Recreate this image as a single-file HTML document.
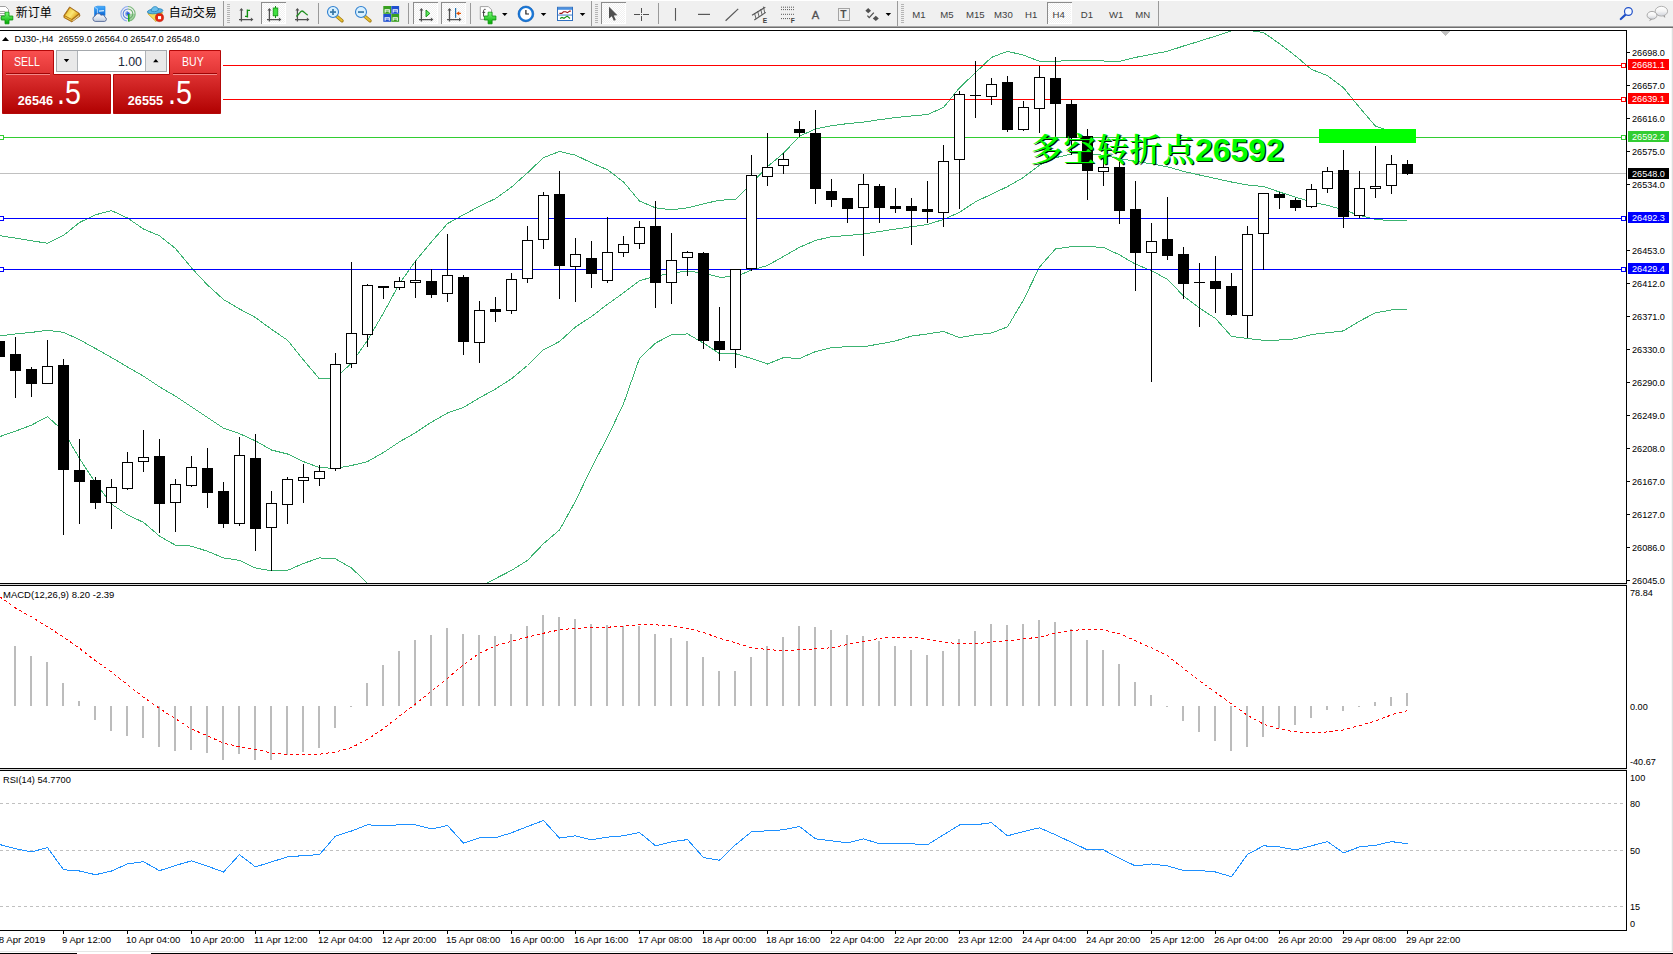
<!DOCTYPE html>
<html lang="zh"><head><meta charset="utf-8"><title>DJ30-,H4</title>
<style>
html,body{margin:0;padding:0;background:#fff;}
body{width:1673px;height:954px;position:relative;overflow:hidden;font-family:"Liberation Sans","Noto Sans CJK SC",sans-serif;}
#tb{position:absolute;left:0;top:0;width:1673px;height:28px;background:#f0f0f0;}
#tb .l0{position:absolute;left:0;top:0;width:1673px;height:1px;background:#fff;}
#tb .l1{position:absolute;left:0;top:26px;width:1673px;height:1px;background:#a8a8a8;}
#tb .l2{position:absolute;left:0;top:27px;width:1673px;height:1px;background:#6e6e6e;}
#redge{position:absolute;left:1671px;top:28px;width:2px;height:923px;background:linear-gradient(90deg,#f6f6f6 50%,#dedede 50%);}
#bbar{position:absolute;left:0;top:951px;width:1673px;height:3px;}
#bbar i{position:absolute;display:block;}
#trade{position:absolute;left:0;top:48px;width:223px;height:68px;color:#fff;background:#fff;}
#trade div{position:absolute;box-sizing:border-box;}
.lbl{font-size:11.6px;line-height:12px;white-space:nowrap;transform:scale(.91,1.08);transform-origin:0 50%;}
.sm{font-size:12.7px;font-weight:bold;line-height:12px;white-space:nowrap;}
.big{font-size:32.6px;line-height:32px;white-space:nowrap;transform:scaleX(.88);transform-origin:0 50%;}
#trade .v{left:100px;width:42px;text-align:right;top:6.5px;font-size:12.4px;color:#1a2638;line-height:14px;}
</style></head><body>
<svg id="chart" width="1673" height="954" viewBox="0 0 1673 954" style="position:absolute;left:0;top:0">
<defs><clipPath id="cm"><rect x="0" y="31" width="1626" height="552"/></clipPath><clipPath id="c2"><rect x="0" y="586" width="1626" height="182"/></clipPath><clipPath id="c3"><rect x="0" y="771" width="1626" height="159"/></clipPath></defs>
<g shape-rendering="crispEdges">
<rect x="0" y="30" width="1627" height="1" fill="#000"/>
<rect x="1626" y="30" width="1" height="901" fill="#000"/>
<rect x="0" y="583" width="1627" height="1" fill="#000"/>
<rect x="0" y="585" width="1627" height="1" fill="#000"/>
<rect x="0" y="768" width="1627" height="1" fill="#000"/>
<rect x="0" y="770" width="1627" height="1" fill="#000"/>
<rect x="0" y="584" width="1627" height="1" fill="#d8d8d8"/>
<rect x="0" y="769" width="1627" height="1" fill="#d8d8d8"/>
<rect x="0" y="930" width="1627" height="1" fill="#000"/>
<rect x="63" y="931" width="1" height="3" fill="#000"/>
<rect x="127" y="931" width="1" height="3" fill="#000"/>
<rect x="191" y="931" width="1" height="3" fill="#000"/>
<rect x="255" y="931" width="1" height="3" fill="#000"/>
<rect x="319" y="931" width="1" height="3" fill="#000"/>
<rect x="383" y="931" width="1" height="3" fill="#000"/>
<rect x="447" y="931" width="1" height="3" fill="#000"/>
<rect x="511" y="931" width="1" height="3" fill="#000"/>
<rect x="575" y="931" width="1" height="3" fill="#000"/>
<rect x="639" y="931" width="1" height="3" fill="#000"/>
<rect x="703" y="931" width="1" height="3" fill="#000"/>
<rect x="767" y="931" width="1" height="3" fill="#000"/>
<rect x="831" y="931" width="1" height="3" fill="#000"/>
<rect x="895" y="931" width="1" height="3" fill="#000"/>
<rect x="959" y="931" width="1" height="3" fill="#000"/>
<rect x="1023" y="931" width="1" height="3" fill="#000"/>
<rect x="1087" y="931" width="1" height="3" fill="#000"/>
<rect x="1151" y="931" width="1" height="3" fill="#000"/>
<rect x="1215" y="931" width="1" height="3" fill="#000"/>
<rect x="1279" y="931" width="1" height="3" fill="#000"/>
<rect x="1343" y="931" width="1" height="3" fill="#000"/>
<rect x="1407" y="931" width="1" height="3" fill="#000"/>
<rect x="1627" y="52" width="3" height="1" fill="#000"/>
<rect x="1627" y="85" width="3" height="1" fill="#000"/>
<rect x="1627" y="118" width="3" height="1" fill="#000"/>
<rect x="1627" y="151" width="3" height="1" fill="#000"/>
<rect x="1627" y="184" width="3" height="1" fill="#000"/>
<rect x="1627" y="250" width="3" height="1" fill="#000"/>
<rect x="1627" y="283" width="3" height="1" fill="#000"/>
<rect x="1627" y="316" width="3" height="1" fill="#000"/>
<rect x="1627" y="349" width="3" height="1" fill="#000"/>
<rect x="1627" y="382" width="3" height="1" fill="#000"/>
<rect x="1627" y="415" width="3" height="1" fill="#000"/>
<rect x="1627" y="448" width="3" height="1" fill="#000"/>
<rect x="1627" y="481" width="3" height="1" fill="#000"/>
<rect x="1627" y="514" width="3" height="1" fill="#000"/>
<rect x="1627" y="547" width="3" height="1" fill="#000"/>
<rect x="1627" y="580" width="3" height="1" fill="#000"/>
</g>
<g shape-rendering="crispEdges">
<rect x="0" y="173" width="1626" height="1" fill="#c0c0c0"/>
</g>
<g clip-path="url(#cm)" fill="none" stroke="#3cb371" stroke-width="1" shape-rendering="crispEdges">
<polyline points="-0.5,235.7 15.5,238.1 31.5,240.7 47.5,243.3 63.5,235.4 79.5,222.5 95.5,214.8 111.5,210.6 127.5,218.0 143.5,229.0 159.5,235.8 175.5,248.5 191.5,267.9 207.5,285.0 223.5,299.5 239.5,309.0 255.5,317.5 271.5,329.3 287.5,340.2 303.5,360.0 319.5,379.0 335.5,378.0 351.5,363.2 367.5,340.3 383.5,313.0 399.5,283.5 415.5,261.0 431.5,241.8 447.5,223.6 463.5,214.8 479.5,206.2 495.5,198.6 511.5,187.1 527.5,172.8 543.5,157.6 559.5,151.5 575.5,155.2 591.5,162.8 607.5,169.8 623.5,181.9 639.5,201.1 655.5,207.8 671.5,209.9 687.5,207.8 703.5,203.8 719.5,200.2 735.5,199.6 751.5,183.5 767.5,166.7 783.5,153.1 799.5,136.3 815.5,128.8 831.5,125.8 847.5,123.6 863.5,122.1 879.5,119.7 895.5,117.6 911.5,116.0 927.5,114.5 943.5,107.5 959.5,87.8 975.5,72.6 991.5,57.4 1007.5,51.3 1023.5,55.2 1039.5,61.3 1055.5,61.3 1071.5,60.4 1087.5,60.4 1103.5,61.0 1119.5,61.3 1135.5,57.4 1151.5,54.3 1167.5,51.3 1183.5,46.0 1199.5,41.2 1215.5,36.1 1231.5,30.8 1247.5,30.3 1263.5,32.5 1279.5,43.7 1295.5,55.9 1311.5,69.5 1327.5,75.6 1343.5,87.8 1359.5,107.5 1375.5,126.1 1391.5,131.4 1407.5,132.5"/>
<polyline points="-0.5,336.0 15.5,333.9 31.5,332.4 47.5,330.3 63.5,332.3 79.5,339.7 95.5,348.5 111.5,357.5 127.5,367.0 143.5,376.1 159.5,386.8 175.5,396.2 191.5,406.9 207.5,417.5 223.5,428.2 239.5,433.6 255.5,440.9 271.5,450.0 287.5,454.0 303.5,461.6 319.5,467.7 335.5,468.3 351.5,465.5 367.5,461.6 383.5,452.5 399.5,441.8 415.5,432.7 431.5,422.1 447.5,413.0 463.5,407.5 479.5,397.8 495.5,389.0 511.5,378.8 527.5,365.5 543.5,349.8 559.5,341.5 575.5,327.0 591.5,316.5 607.5,304.3 623.5,292.9 639.5,280.7 655.5,276.2 671.5,273.1 687.5,271.0 703.5,273.1 719.5,277.1 735.5,276.8 751.5,270.1 767.5,265.5 783.5,256.4 799.5,247.3 815.5,240.4 831.5,236.7 847.5,235.5 863.5,234.0 879.5,231.5 895.5,229.1 911.5,226.7 927.5,224.5 943.5,219.4 959.5,212.4 975.5,201.8 991.5,194.2 1007.5,186.6 1023.5,177.4 1039.5,165.3 1055.5,157.7 1071.5,154.0 1087.5,153.3 1103.5,155.3 1119.5,158.5 1135.5,161.3 1151.5,163.8 1167.5,166.8 1183.5,171.4 1199.5,175.0 1215.5,178.5 1231.5,182.0 1247.5,185.0 1263.5,186.6 1279.5,192.0 1295.5,197.2 1311.5,201.8 1327.5,205.4 1343.5,209.8 1359.5,215.5 1375.5,219.3 1391.5,220.8 1407.5,221.0"/>
<polyline points="-0.5,436.7 15.5,431.2 31.5,425.1 47.5,416.6 63.5,431.2 79.5,458.5 95.5,482.9 111.5,504.1 127.5,514.8 143.5,522.4 159.5,536.1 175.5,545.2 191.5,546.1 207.5,551.3 223.5,557.9 239.5,560.4 255.5,568.0 271.5,570.7 287.5,570.4 303.5,563.4 319.5,557.9 335.5,558.9 351.5,568.0 367.5,583.2 383.5,600.5 399.5,615.5 415.5,625.5 431.5,628.5 447.5,625.5 463.5,615.5 479.5,587.3 495.5,578.6 511.5,570.4 527.5,560.4 543.5,543.7 559.5,530.0 575.5,501.1 591.5,467.7 607.5,437.3 623.5,403.8 639.5,358.3 655.5,343.1 671.5,334.8 687.5,333.9 703.5,343.1 719.5,353.7 735.5,353.7 751.5,358.5 767.5,364.0 783.5,357.6 799.5,358.5 815.5,351.6 831.5,347.6 847.5,346.7 863.5,346.7 879.5,344.0 895.5,340.9 911.5,336.1 927.5,333.9 943.5,331.5 959.5,337.6 975.5,334.8 991.5,333.0 1007.5,326.9 1023.5,300.0 1039.5,267.1 1055.5,248.9 1071.5,246.7 1087.5,246.7 1103.5,247.3 1119.5,254.9 1135.5,264.1 1151.5,270.7 1167.5,279.3 1183.5,296.0 1199.5,308.1 1215.5,318.5 1231.5,336.4 1247.5,338.5 1263.5,340.3 1279.5,340.0 1295.5,338.8 1311.5,334.5 1327.5,332.7 1343.5,330.9 1359.5,321.2 1375.5,312.7 1391.5,310.0 1407.5,309.6"/>
</g>
<g shape-rendering="crispEdges">
<rect x="0" y="65" width="1626" height="1" fill="#ff0000"/>
<rect x="1621.5" y="63.5" width="4" height="4" fill="#fff" stroke="#ff0000" stroke-width="1"/>
<rect x="-0.5" y="63.5" width="4" height="4" fill="#fff" stroke="#ff0000" stroke-width="1"/>
<rect x="0" y="99" width="1626" height="1" fill="#ff0000"/>
<rect x="1621.5" y="97.5" width="4" height="4" fill="#fff" stroke="#ff0000" stroke-width="1"/>
<rect x="-0.5" y="97.5" width="4" height="4" fill="#fff" stroke="#ff0000" stroke-width="1"/>
<rect x="0" y="137" width="1626" height="1" fill="#32cd32"/>
<rect x="1621.5" y="135.5" width="4" height="4" fill="#fff" stroke="#32cd32" stroke-width="1"/>
<rect x="-0.5" y="135.5" width="4" height="4" fill="#fff" stroke="#32cd32" stroke-width="1"/>
<rect x="0" y="218" width="1626" height="1" fill="#0000ff"/>
<rect x="1621.5" y="216.5" width="4" height="4" fill="#fff" stroke="#0000ff" stroke-width="1"/>
<rect x="-0.5" y="216.5" width="4" height="4" fill="#fff" stroke="#0000ff" stroke-width="1"/>
<rect x="0" y="269" width="1626" height="1" fill="#0000ff"/>
<rect x="1621.5" y="267.5" width="4" height="4" fill="#fff" stroke="#0000ff" stroke-width="1"/>
<rect x="-0.5" y="267.5" width="4" height="4" fill="#fff" stroke="#0000ff" stroke-width="1"/>
</g>
<g clip-path="url(#cm)" shape-rendering="crispEdges">
<rect x="-1" y="336" width="1" height="26" fill="#000"/>
<rect x="-6" y="341" width="11" height="16" fill="#000"/>
<rect x="15" y="337" width="1" height="61" fill="#000"/>
<rect x="10" y="354" width="11" height="17" fill="#000"/>
<rect x="31" y="367" width="1" height="30" fill="#000"/>
<rect x="26" y="369" width="11" height="15" fill="#000"/>
<rect x="47" y="340" width="1" height="44" fill="#000"/>
<rect x="42" y="366" width="11" height="18" fill="#000"/>
<rect x="43" y="367" width="9" height="16" fill="#fff"/>
<rect x="63" y="359" width="1" height="176" fill="#000"/>
<rect x="58" y="365" width="11" height="105" fill="#000"/>
<rect x="79" y="439" width="1" height="85" fill="#000"/>
<rect x="74" y="470" width="11" height="12" fill="#000"/>
<rect x="95" y="477" width="1" height="32" fill="#000"/>
<rect x="90" y="480" width="11" height="23" fill="#000"/>
<rect x="111" y="479" width="1" height="50" fill="#000"/>
<rect x="106" y="487" width="11" height="16" fill="#000"/>
<rect x="107" y="488" width="9" height="14" fill="#fff"/>
<rect x="127" y="452" width="1" height="38" fill="#000"/>
<rect x="122" y="462" width="11" height="27" fill="#000"/>
<rect x="123" y="463" width="9" height="25" fill="#fff"/>
<rect x="143" y="430" width="1" height="42" fill="#000"/>
<rect x="138" y="457" width="11" height="5" fill="#000"/>
<rect x="139" y="458" width="9" height="3" fill="#fff"/>
<rect x="159" y="439" width="1" height="94" fill="#000"/>
<rect x="154" y="456" width="11" height="48" fill="#000"/>
<rect x="175" y="479" width="1" height="53" fill="#000"/>
<rect x="170" y="484" width="11" height="19" fill="#000"/>
<rect x="171" y="485" width="9" height="17" fill="#fff"/>
<rect x="191" y="456" width="1" height="31" fill="#000"/>
<rect x="186" y="467" width="11" height="19" fill="#000"/>
<rect x="187" y="468" width="9" height="17" fill="#fff"/>
<rect x="207" y="448" width="1" height="60" fill="#000"/>
<rect x="202" y="468" width="11" height="25" fill="#000"/>
<rect x="223" y="482" width="1" height="46" fill="#000"/>
<rect x="218" y="491" width="11" height="33" fill="#000"/>
<rect x="239" y="437" width="1" height="89" fill="#000"/>
<rect x="234" y="455" width="11" height="69" fill="#000"/>
<rect x="235" y="456" width="9" height="67" fill="#fff"/>
<rect x="255" y="434" width="1" height="117" fill="#000"/>
<rect x="250" y="458" width="11" height="71" fill="#000"/>
<rect x="271" y="491" width="1" height="80" fill="#000"/>
<rect x="266" y="503" width="11" height="25" fill="#000"/>
<rect x="267" y="504" width="9" height="23" fill="#fff"/>
<rect x="287" y="477" width="1" height="47" fill="#000"/>
<rect x="282" y="479" width="11" height="26" fill="#000"/>
<rect x="283" y="480" width="9" height="24" fill="#fff"/>
<rect x="303" y="464" width="1" height="39" fill="#000"/>
<rect x="298" y="477" width="11" height="4" fill="#000"/>
<rect x="299" y="478" width="9" height="2" fill="#fff"/>
<rect x="319" y="465" width="1" height="21" fill="#000"/>
<rect x="314" y="471" width="11" height="8" fill="#000"/>
<rect x="315" y="472" width="9" height="6" fill="#fff"/>
<rect x="335" y="353" width="1" height="118" fill="#000"/>
<rect x="330" y="364" width="11" height="105" fill="#000"/>
<rect x="331" y="365" width="9" height="103" fill="#fff"/>
<rect x="351" y="262" width="1" height="106" fill="#000"/>
<rect x="346" y="333" width="11" height="31" fill="#000"/>
<rect x="347" y="334" width="9" height="29" fill="#fff"/>
<rect x="367" y="284" width="1" height="63" fill="#000"/>
<rect x="362" y="285" width="11" height="50" fill="#000"/>
<rect x="363" y="286" width="9" height="48" fill="#fff"/>
<rect x="383" y="286" width="1" height="13" fill="#000"/>
<rect x="378" y="286" width="11" height="2" fill="#000"/>
<rect x="399" y="277" width="1" height="13" fill="#000"/>
<rect x="394" y="281" width="11" height="7" fill="#000"/>
<rect x="395" y="282" width="9" height="5" fill="#fff"/>
<rect x="415" y="261" width="1" height="37" fill="#000"/>
<rect x="410" y="280" width="11" height="3" fill="#000"/>
<rect x="411" y="281" width="9" height="1" fill="#fff"/>
<rect x="431" y="269" width="1" height="29" fill="#000"/>
<rect x="426" y="281" width="11" height="14" fill="#000"/>
<rect x="447" y="234" width="1" height="68" fill="#000"/>
<rect x="442" y="275" width="11" height="19" fill="#000"/>
<rect x="443" y="276" width="9" height="17" fill="#fff"/>
<rect x="463" y="275" width="1" height="80" fill="#000"/>
<rect x="458" y="277" width="11" height="65" fill="#000"/>
<rect x="479" y="301" width="1" height="62" fill="#000"/>
<rect x="474" y="310" width="11" height="33" fill="#000"/>
<rect x="475" y="311" width="9" height="31" fill="#fff"/>
<rect x="495" y="297" width="1" height="25" fill="#000"/>
<rect x="490" y="309" width="11" height="3" fill="#000"/>
<rect x="511" y="273" width="1" height="41" fill="#000"/>
<rect x="506" y="279" width="11" height="32" fill="#000"/>
<rect x="507" y="280" width="9" height="30" fill="#fff"/>
<rect x="527" y="226" width="1" height="57" fill="#000"/>
<rect x="522" y="240" width="11" height="39" fill="#000"/>
<rect x="523" y="241" width="9" height="37" fill="#fff"/>
<rect x="543" y="192" width="1" height="57" fill="#000"/>
<rect x="538" y="195" width="11" height="45" fill="#000"/>
<rect x="539" y="196" width="9" height="43" fill="#fff"/>
<rect x="559" y="171" width="1" height="128" fill="#000"/>
<rect x="554" y="194" width="11" height="72" fill="#000"/>
<rect x="575" y="238" width="1" height="64" fill="#000"/>
<rect x="570" y="254" width="11" height="13" fill="#000"/>
<rect x="571" y="255" width="9" height="11" fill="#fff"/>
<rect x="591" y="241" width="1" height="47" fill="#000"/>
<rect x="586" y="258" width="11" height="16" fill="#000"/>
<rect x="607" y="217" width="1" height="66" fill="#000"/>
<rect x="602" y="252" width="11" height="29" fill="#000"/>
<rect x="603" y="253" width="9" height="27" fill="#fff"/>
<rect x="623" y="236" width="1" height="21" fill="#000"/>
<rect x="618" y="244" width="11" height="9" fill="#000"/>
<rect x="619" y="245" width="9" height="7" fill="#fff"/>
<rect x="639" y="221" width="1" height="28" fill="#000"/>
<rect x="634" y="227" width="11" height="17" fill="#000"/>
<rect x="635" y="228" width="9" height="15" fill="#fff"/>
<rect x="655" y="201" width="1" height="107" fill="#000"/>
<rect x="650" y="226" width="11" height="57" fill="#000"/>
<rect x="671" y="233" width="1" height="71" fill="#000"/>
<rect x="666" y="260" width="11" height="23" fill="#000"/>
<rect x="667" y="261" width="9" height="21" fill="#fff"/>
<rect x="687" y="251" width="1" height="25" fill="#000"/>
<rect x="682" y="252" width="11" height="6" fill="#000"/>
<rect x="683" y="253" width="9" height="4" fill="#fff"/>
<rect x="703" y="252" width="1" height="97" fill="#000"/>
<rect x="698" y="253" width="11" height="88" fill="#000"/>
<rect x="719" y="307" width="1" height="54" fill="#000"/>
<rect x="714" y="341" width="11" height="9" fill="#000"/>
<rect x="735" y="269" width="1" height="99" fill="#000"/>
<rect x="730" y="269" width="11" height="81" fill="#000"/>
<rect x="731" y="270" width="9" height="79" fill="#fff"/>
<rect x="751" y="155" width="1" height="116" fill="#000"/>
<rect x="746" y="175" width="11" height="94" fill="#000"/>
<rect x="747" y="176" width="9" height="92" fill="#fff"/>
<rect x="767" y="133" width="1" height="53" fill="#000"/>
<rect x="762" y="167" width="11" height="10" fill="#000"/>
<rect x="763" y="168" width="9" height="8" fill="#fff"/>
<rect x="783" y="153" width="1" height="21" fill="#000"/>
<rect x="778" y="159" width="11" height="7" fill="#000"/>
<rect x="779" y="160" width="9" height="5" fill="#fff"/>
<rect x="799" y="121" width="1" height="16" fill="#000"/>
<rect x="794" y="129" width="11" height="4" fill="#000"/>
<rect x="815" y="110" width="1" height="94" fill="#000"/>
<rect x="810" y="133" width="11" height="56" fill="#000"/>
<rect x="831" y="179" width="1" height="28" fill="#000"/>
<rect x="826" y="191" width="11" height="9" fill="#000"/>
<rect x="847" y="198" width="1" height="25" fill="#000"/>
<rect x="842" y="198" width="11" height="11" fill="#000"/>
<rect x="863" y="174" width="1" height="82" fill="#000"/>
<rect x="858" y="184" width="11" height="24" fill="#000"/>
<rect x="859" y="185" width="9" height="22" fill="#fff"/>
<rect x="879" y="184" width="1" height="39" fill="#000"/>
<rect x="874" y="186" width="11" height="22" fill="#000"/>
<rect x="895" y="188" width="1" height="25" fill="#000"/>
<rect x="890" y="206" width="11" height="3" fill="#000"/>
<rect x="911" y="198" width="1" height="47" fill="#000"/>
<rect x="906" y="206" width="11" height="5" fill="#000"/>
<rect x="927" y="181" width="1" height="42" fill="#000"/>
<rect x="922" y="209" width="11" height="3" fill="#000"/>
<rect x="943" y="145" width="1" height="82" fill="#000"/>
<rect x="938" y="161" width="11" height="52" fill="#000"/>
<rect x="939" y="162" width="9" height="50" fill="#fff"/>
<rect x="959" y="91" width="1" height="118" fill="#000"/>
<rect x="954" y="94" width="11" height="66" fill="#000"/>
<rect x="955" y="95" width="9" height="64" fill="#fff"/>
<rect x="975" y="61" width="1" height="57" fill="#000"/>
<rect x="970" y="95" width="11" height="1" fill="#000"/>
<rect x="991" y="78" width="1" height="27" fill="#000"/>
<rect x="986" y="84" width="11" height="13" fill="#000"/>
<rect x="987" y="85" width="9" height="11" fill="#fff"/>
<rect x="1007" y="76" width="1" height="56" fill="#000"/>
<rect x="1002" y="82" width="11" height="48" fill="#000"/>
<rect x="1023" y="101" width="1" height="30" fill="#000"/>
<rect x="1018" y="107" width="11" height="23" fill="#000"/>
<rect x="1019" y="108" width="9" height="21" fill="#fff"/>
<rect x="1039" y="66" width="1" height="67" fill="#000"/>
<rect x="1034" y="77" width="11" height="32" fill="#000"/>
<rect x="1035" y="78" width="9" height="30" fill="#fff"/>
<rect x="1055" y="57" width="1" height="81" fill="#000"/>
<rect x="1050" y="78" width="11" height="26" fill="#000"/>
<rect x="1071" y="100" width="1" height="55" fill="#000"/>
<rect x="1066" y="104" width="11" height="34" fill="#000"/>
<rect x="1087" y="129" width="1" height="71" fill="#000"/>
<rect x="1082" y="136" width="11" height="35" fill="#000"/>
<rect x="1103" y="159" width="1" height="27" fill="#000"/>
<rect x="1098" y="167" width="11" height="5" fill="#000"/>
<rect x="1099" y="168" width="9" height="3" fill="#fff"/>
<rect x="1119" y="162" width="1" height="62" fill="#000"/>
<rect x="1114" y="167" width="11" height="44" fill="#000"/>
<rect x="1135" y="181" width="1" height="110" fill="#000"/>
<rect x="1130" y="209" width="11" height="44" fill="#000"/>
<rect x="1151" y="223" width="1" height="159" fill="#000"/>
<rect x="1146" y="241" width="11" height="12" fill="#000"/>
<rect x="1147" y="242" width="9" height="10" fill="#fff"/>
<rect x="1167" y="197" width="1" height="63" fill="#000"/>
<rect x="1162" y="239" width="11" height="17" fill="#000"/>
<rect x="1183" y="247" width="1" height="52" fill="#000"/>
<rect x="1178" y="254" width="11" height="30" fill="#000"/>
<rect x="1199" y="263" width="1" height="64" fill="#000"/>
<rect x="1194" y="282" width="11" height="1" fill="#000"/>
<rect x="1215" y="256" width="1" height="57" fill="#000"/>
<rect x="1210" y="281" width="11" height="8" fill="#000"/>
<rect x="1231" y="273" width="1" height="43" fill="#000"/>
<rect x="1226" y="286" width="11" height="29" fill="#000"/>
<rect x="1247" y="226" width="1" height="112" fill="#000"/>
<rect x="1242" y="234" width="11" height="82" fill="#000"/>
<rect x="1243" y="235" width="9" height="80" fill="#fff"/>
<rect x="1263" y="193" width="1" height="77" fill="#000"/>
<rect x="1258" y="193" width="11" height="41" fill="#000"/>
<rect x="1259" y="194" width="9" height="39" fill="#fff"/>
<rect x="1279" y="192" width="1" height="17" fill="#000"/>
<rect x="1274" y="194" width="11" height="4" fill="#000"/>
<rect x="1295" y="198" width="1" height="13" fill="#000"/>
<rect x="1290" y="200" width="11" height="8" fill="#000"/>
<rect x="1311" y="184" width="1" height="24" fill="#000"/>
<rect x="1306" y="189" width="11" height="18" fill="#000"/>
<rect x="1307" y="190" width="9" height="16" fill="#fff"/>
<rect x="1327" y="167" width="1" height="26" fill="#000"/>
<rect x="1322" y="171" width="11" height="18" fill="#000"/>
<rect x="1323" y="172" width="9" height="16" fill="#fff"/>
<rect x="1343" y="150" width="1" height="78" fill="#000"/>
<rect x="1338" y="170" width="11" height="47" fill="#000"/>
<rect x="1359" y="171" width="1" height="47" fill="#000"/>
<rect x="1354" y="188" width="11" height="28" fill="#000"/>
<rect x="1355" y="189" width="9" height="26" fill="#fff"/>
<rect x="1375" y="146" width="1" height="52" fill="#000"/>
<rect x="1370" y="186" width="11" height="3" fill="#000"/>
<rect x="1371" y="187" width="9" height="1" fill="#fff"/>
<rect x="1391" y="155" width="1" height="39" fill="#000"/>
<rect x="1386" y="164" width="11" height="22" fill="#000"/>
<rect x="1387" y="165" width="9" height="20" fill="#fff"/>
<rect x="1407" y="160" width="1" height="15" fill="#000"/>
<rect x="1402" y="164" width="11" height="10" fill="#000"/>
</g>
<rect x="1319" y="129" width="97" height="14" fill="#00ff00" shape-rendering="crispEdges"/>
<g font-family="'Liberation Sans', 'Noto Serif CJK SC', serif" font-size="32px" font-weight="bold">
<text x="1031.8" y="162.10000000000002" fill="#001800" font-weight="600" letter-spacing="1">多空转折点</text>
<text x="1196.2" y="162.10000000000002" fill="#001800">26592</text>
<text x="1030.5" y="160.8" fill="#00ff00" font-weight="600" letter-spacing="1">多空转折点</text>
<text x="1194.9" y="160.8" fill="#00ff00">26592</text>
</g>
<g shape-rendering="crispEdges">
<rect x="1628" y="59" width="41" height="11" fill="#ff0000"/>
<rect x="1628" y="93" width="41" height="11" fill="#ff0000"/>
<rect x="1628" y="131" width="41" height="11" fill="#32cd32"/>
<rect x="1628" y="168" width="41" height="11" fill="#000000"/>
<rect x="1628" y="212" width="41" height="11" fill="#0000ff"/>
<rect x="1628" y="263" width="41" height="11" fill="#0000ff"/>
<polygon points="1441,31 1450,31 1445.5,36" fill="#c0c0c0"/>
</g>
<g clip-path="url(#c2)">
<g shape-rendering="crispEdges" fill="#bcbcbc">
<rect x="14" y="646" width="2" height="60"/>
<rect x="30" y="656" width="2" height="50"/>
<rect x="46" y="662" width="2" height="44"/>
<rect x="62" y="683" width="2" height="23"/>
<rect x="78" y="701" width="2" height="5"/>
<rect x="94" y="706" width="2" height="14"/>
<rect x="110" y="706" width="2" height="25"/>
<rect x="126" y="706" width="2" height="30"/>
<rect x="142" y="706" width="2" height="32"/>
<rect x="158" y="706" width="2" height="41"/>
<rect x="174" y="706" width="2" height="45"/>
<rect x="190" y="706" width="2" height="44"/>
<rect x="206" y="706" width="2" height="47"/>
<rect x="222" y="706" width="2" height="54"/>
<rect x="238" y="706" width="2" height="48"/>
<rect x="254" y="706" width="2" height="54"/>
<rect x="270" y="706" width="2" height="54"/>
<rect x="286" y="706" width="2" height="49"/>
<rect x="302" y="706" width="2" height="46"/>
<rect x="318" y="706" width="2" height="42"/>
<rect x="334" y="706" width="2" height="22"/>
<rect x="350" y="706" width="2" height="1"/>
<rect x="366" y="683" width="2" height="23"/>
<rect x="382" y="665" width="2" height="41"/>
<rect x="398" y="651" width="2" height="55"/>
<rect x="414" y="640" width="2" height="66"/>
<rect x="430" y="635" width="2" height="71"/>
<rect x="446" y="628" width="2" height="78"/>
<rect x="462" y="634" width="2" height="72"/>
<rect x="478" y="635" width="2" height="71"/>
<rect x="494" y="636" width="2" height="70"/>
<rect x="510" y="634" width="2" height="72"/>
<rect x="526" y="626" width="2" height="80"/>
<rect x="542" y="615" width="2" height="91"/>
<rect x="558" y="617" width="2" height="89"/>
<rect x="574" y="619" width="2" height="87"/>
<rect x="590" y="624" width="2" height="82"/>
<rect x="606" y="625" width="2" height="81"/>
<rect x="622" y="626" width="2" height="80"/>
<rect x="638" y="626" width="2" height="80"/>
<rect x="654" y="634" width="2" height="72"/>
<rect x="670" y="638" width="2" height="68"/>
<rect x="686" y="641" width="2" height="65"/>
<rect x="702" y="657" width="2" height="49"/>
<rect x="718" y="671" width="2" height="35"/>
<rect x="734" y="671" width="2" height="35"/>
<rect x="750" y="657" width="2" height="49"/>
<rect x="766" y="646" width="2" height="60"/>
<rect x="782" y="637" width="2" height="69"/>
<rect x="798" y="626" width="2" height="80"/>
<rect x="814" y="627" width="2" height="79"/>
<rect x="830" y="630" width="2" height="76"/>
<rect x="846" y="635" width="2" height="71"/>
<rect x="862" y="636" width="2" height="70"/>
<rect x="878" y="641" width="2" height="65"/>
<rect x="894" y="646" width="2" height="60"/>
<rect x="910" y="650" width="2" height="56"/>
<rect x="926" y="655" width="2" height="51"/>
<rect x="942" y="651" width="2" height="55"/>
<rect x="958" y="639" width="2" height="67"/>
<rect x="974" y="631" width="2" height="75"/>
<rect x="990" y="624" width="2" height="82"/>
<rect x="1006" y="625" width="2" height="81"/>
<rect x="1022" y="624" width="2" height="82"/>
<rect x="1038" y="620" width="2" height="86"/>
<rect x="1054" y="622" width="2" height="84"/>
<rect x="1070" y="629" width="2" height="77"/>
<rect x="1086" y="640" width="2" height="66"/>
<rect x="1102" y="650" width="2" height="56"/>
<rect x="1118" y="664" width="2" height="42"/>
<rect x="1134" y="682" width="2" height="24"/>
<rect x="1150" y="695" width="2" height="11"/>
<rect x="1166" y="706" width="2" height="1"/>
<rect x="1182" y="706" width="2" height="15"/>
<rect x="1198" y="706" width="2" height="26"/>
<rect x="1214" y="706" width="2" height="35"/>
<rect x="1230" y="706" width="2" height="45"/>
<rect x="1246" y="706" width="2" height="41"/>
<rect x="1262" y="706" width="2" height="31"/>
<rect x="1278" y="706" width="2" height="22"/>
<rect x="1294" y="706" width="2" height="19"/>
<rect x="1310" y="706" width="2" height="12"/>
<rect x="1326" y="706" width="2" height="4"/>
<rect x="1342" y="706" width="2" height="5"/>
<rect x="1358" y="706" width="2" height="1"/>
<rect x="1374" y="702" width="2" height="4"/>
<rect x="1390" y="697" width="2" height="9"/>
<rect x="1406" y="693" width="2" height="13"/>
</g>
<polyline points="-0.5,596.5 15.5,608.1 31.5,616.9 47.5,626.9 63.5,637.0 79.5,648.3 95.5,660.8 111.5,672.1 127.5,684.7 143.5,697.2 159.5,708.5 175.5,718.6 191.5,729.1 207.5,735.7 223.5,743.2 239.5,746.7 255.5,749.2 271.5,753.2 287.5,754.5 303.5,754.5 319.5,754.2 335.5,752.0 351.5,747.5 367.5,739.4 383.5,728.6 399.5,716.1 415.5,704.0 431.5,691.0 447.5,678.4 463.5,664.6 479.5,653.3 495.5,645.8 511.5,641.3 527.5,637.0 543.5,633.2 559.5,630.0 575.5,628.2 591.5,627.7 607.5,627.2 623.5,626.2 639.5,624.9 655.5,624.9 671.5,625.7 687.5,628.2 703.5,632.5 719.5,638.2 735.5,642.8 751.5,647.8 767.5,649.5 783.5,650.8 799.5,649.8 815.5,648.8 831.5,647.8 847.5,644.5 863.5,641.5 879.5,638.2 895.5,637.0 911.5,637.0 927.5,639.5 943.5,642.0 959.5,643.8 975.5,643.8 991.5,642.0 1007.5,640.8 1023.5,639.0 1039.5,637.0 1055.5,633.2 1071.5,630.7 1087.5,629.0 1103.5,630.0 1119.5,633.7 1135.5,640.8 1151.5,647.8 1167.5,655.8 1183.5,668.4 1199.5,680.9 1215.5,692.2 1231.5,704.0 1247.5,715.3 1263.5,724.1 1279.5,729.1 1295.5,731.9 1311.5,732.9 1327.5,731.9 1343.5,729.9 1359.5,725.6 1375.5,721.1 1391.5,714.8 1407.5,710.5" fill="none" stroke="#ff0000" stroke-width="1" stroke-dasharray="3,3" shape-rendering="crispEdges"/>
</g>
<g shape-rendering="crispEdges" stroke="#c0c0c0" stroke-width="1" stroke-dasharray="3,3">
<line x1="0" y1="803.5" x2="1626" y2="803.5"/>
<line x1="0" y1="850.5" x2="1626" y2="850.5"/>
<line x1="0" y1="906.5" x2="1626" y2="906.5"/>
</g>
<g clip-path="url(#c3)"><polyline points="-0.5,844.5 15.5,848.6 31.5,851.9 47.5,847.6 63.5,869.7 79.5,871.0 95.5,874.7 111.5,871.0 127.5,863.9 143.5,861.7 159.5,870.7 175.5,865.4 191.5,860.9 207.5,866.2 223.5,872.0 239.5,854.6 255.5,866.9 271.5,861.9 287.5,856.9 303.5,855.6 319.5,854.6 335.5,836.1 351.5,831.0 367.5,824.8 383.5,825.8 399.5,824.8 415.5,824.8 431.5,829.0 447.5,825.5 463.5,843.1 479.5,837.8 495.5,837.8 511.5,832.8 527.5,826.5 543.5,820.5 559.5,838.1 575.5,835.8 591.5,839.8 607.5,837.1 623.5,835.8 639.5,832.5 655.5,845.8 671.5,841.8 687.5,839.6 703.5,857.6 719.5,860.2 735.5,844.8 751.5,831.8 767.5,830.8 783.5,829.8 799.5,826.5 815.5,838.8 831.5,840.8 847.5,842.8 863.5,838.8 879.5,843.8 895.5,843.8 911.5,843.8 927.5,844.8 943.5,834.8 959.5,825.0 975.5,824.8 991.5,822.7 1007.5,835.8 1023.5,831.5 1039.5,827.8 1055.5,834.8 1071.5,842.3 1087.5,849.9 1103.5,849.9 1119.5,858.4 1135.5,865.9 1151.5,863.9 1167.5,865.9 1183.5,870.5 1199.5,870.5 1215.5,872.0 1231.5,876.7 1247.5,854.4 1263.5,845.8 1279.5,846.9 1295.5,849.9 1311.5,845.8 1327.5,841.6 1343.5,852.9 1359.5,846.9 1375.5,845.3 1391.5,841.6 1407.5,843.8" fill="none" stroke="#1e90ff" stroke-width="1" shape-rendering="crispEdges"/></g>
<g font-family="'Liberation Sans', sans-serif" font-size="9.7px" fill="#000">
<text transform="translate(1632,55.9) scale(.94,1)">26698.0</text>
<text transform="translate(1632,88.9) scale(.94,1)">26657.0</text>
<text transform="translate(1632,121.9) scale(.94,1)">26616.0</text>
<text transform="translate(1632,154.9) scale(.94,1)">26575.0</text>
<text transform="translate(1632,187.9) scale(.94,1)">26534.0</text>
<text transform="translate(1632,253.9) scale(.94,1)">26453.0</text>
<text transform="translate(1632,286.9) scale(.94,1)">26412.0</text>
<text transform="translate(1632,319.9) scale(.94,1)">26371.0</text>
<text transform="translate(1632,352.9) scale(.94,1)">26330.0</text>
<text transform="translate(1632,385.9) scale(.94,1)">26290.0</text>
<text transform="translate(1632,418.9) scale(.94,1)">26249.0</text>
<text transform="translate(1632,451.9) scale(.94,1)">26208.0</text>
<text transform="translate(1632,484.9) scale(.94,1)">26167.0</text>
<text transform="translate(1632,517.9) scale(.94,1)">26127.0</text>
<text transform="translate(1632,550.9) scale(.94,1)">26086.0</text>
<text transform="translate(1632,583.9) scale(.94,1)">26045.0</text>
<text transform="translate(1632,68.3) scale(.94,1)" fill="#fff">26681.1</text>
<text transform="translate(1632,102.3) scale(.94,1)" fill="#fff">26639.1</text>
<text transform="translate(1632,140.3) scale(.94,1)" fill="#fff">26592.2</text>
<text transform="translate(1632,177.3) scale(.94,1)" fill="#fff">26548.0</text>
<text transform="translate(1632,221.3) scale(.94,1)" fill="#fff">26492.3</text>
<text transform="translate(1632,272.3) scale(.94,1)" fill="#fff">26429.4</text>
<text transform="translate(1630,595.9) scale(.94,1)">78.84</text>
<text transform="translate(1630,709.9) scale(.94,1)">0.00</text>
<text transform="translate(1630,764.9) scale(.94,1)">-40.67</text>
<text transform="translate(1630,780.9) scale(.94,1)">100</text>
<text transform="translate(1630,806.9) scale(.94,1)">80</text>
<text transform="translate(1630,853.9) scale(.94,1)">50</text>
<text transform="translate(1630,909.9) scale(.94,1)">15</text>
<text transform="translate(1630,926.9) scale(.94,1)">0</text>
</g>
<g font-family="'Liberation Sans', sans-serif" font-size="9.6px" fill="#000">
<text x="-1.2" y="943">8 Apr 2019</text>
<text x="62" y="943">9 Apr 12:00</text>
<text x="126" y="943">10 Apr 04:00</text>
<text x="190" y="943">10 Apr 20:00</text>
<text x="254" y="943">11 Apr 12:00</text>
<text x="318" y="943">12 Apr 04:00</text>
<text x="382" y="943">12 Apr 20:00</text>
<text x="446" y="943">15 Apr 08:00</text>
<text x="510" y="943">16 Apr 00:00</text>
<text x="574" y="943">16 Apr 16:00</text>
<text x="638" y="943">17 Apr 08:00</text>
<text x="702" y="943">18 Apr 00:00</text>
<text x="766" y="943">18 Apr 16:00</text>
<text x="830" y="943">22 Apr 04:00</text>
<text x="894" y="943">22 Apr 20:00</text>
<text x="958" y="943">23 Apr 12:00</text>
<text x="1022" y="943">24 Apr 04:00</text>
<text x="1086" y="943">24 Apr 20:00</text>
<text x="1150" y="943">25 Apr 12:00</text>
<text x="1214" y="943">26 Apr 04:00</text>
<text x="1278" y="943">26 Apr 20:00</text>
<text x="1342" y="943">29 Apr 08:00</text>
<text x="1406" y="943">29 Apr 22:00</text>
<text transform="translate(14.5,42) scale(.962,1)">DJ30-,H4&#160;&#160;26559.0 26564.0 26547.0 26548.0</text>
<text transform="translate(3,598) scale(.99,1)">MACD(12,26,9) 8.20 -2.39</text>
<text transform="translate(3,783) scale(.965,1)">RSI(14) 54.7700</text>
<polygon points="2,41 9,41 5.5,37" fill="#000"/>
</g>
</svg>
<div id="tb"><div class="l0"></div><div class="l1"></div><div class="l2"></div>
<svg id="tbsvg" width="1673" height="28" viewBox="0 0 1673 28" style="position:absolute;left:0;top:0">
<defs><pattern id="chk" width="2" height="2" patternUnits="userSpaceOnUse"><rect width="2" height="2" fill="#f0f0f0"/><rect width="1" height="1" fill="#fff"/><rect x="1" y="1" width="1" height="1" fill="#fff"/></pattern><linearGradient id="gplus" x1="0" y1="0" x2="0" y2="1"><stop offset="0" stop-color="#7aff7a"/><stop offset="1" stop-color="#00a800"/></linearGradient><linearGradient id="ggold" x1="0" y1="0" x2="1" y2="0.6"><stop offset="0" stop-color="#e8b418"/><stop offset="0.6" stop-color="#fbe674"/><stop offset="1" stop-color="#e0a61c"/></linearGradient><linearGradient id="gbub" x1="0" y1="0" x2="0" y2="1"><stop offset="0" stop-color="#ffffff"/><stop offset="0.5" stop-color="#f4f4f4"/><stop offset="1" stop-color="#cfd2da"/></linearGradient><linearGradient id="gcloud" x1="0" y1="0" x2="0" y2="1"><stop offset="0" stop-color="#ffffff"/><stop offset="1" stop-color="#c4cede"/></linearGradient><linearGradient id="gblue" x1="0" y1="0" x2="0" y2="1"><stop offset="0" stop-color="#48b0ff"/><stop offset="1" stop-color="#0860d0"/></linearGradient></defs>
<path d="M-2,6.5 H5.5 L8.5,9.5 V18 H-2 Z" fill="#fff" stroke="#a0a0a0" stroke-width="1"/>
<path d="M0,11.5 H5 M0,13.5 H5 M0,15.5 H4" stroke="#a8a8a8" stroke-width="1"/>
<path d="M5,12.2 H9 V16 H12.8 V20 H9 V23.8 H5 V20 H1.3 V16 H5 Z" fill="url(#gplus)" stroke="#089008" stroke-width="0.8"/>
<text x="15.8" y="17" font-family="'Liberation Sans','Noto Sans CJK SC',sans-serif" font-size="12px" fill="#000">新订单</text>
<path d="M63.9,15.4 L69.6,6.9 L79.3,13.3 L80,16 L71.8,21.9 L63.9,17.5 Z" fill="#b07414" stroke="#9a5c08" stroke-width="0.7" stroke-linejoin="round"/>
<path d="M64.8,15.2 C66.8,13.6 67.8,11 70,7.9 L78.4,13.5 L71.6,19 Z" fill="url(#ggold)"/>
<path d="M72.3,20.3 L79,15 L79.3,15.9 L72.5,21.2 Z" fill="#ecdca4"/>
<path d="M64.6,16.2 L71.5,19.8 L71.7,21.1 L64.6,17.3 Z" fill="#f2c846"/>
<path d="M94.5,7.2 L97.6,6.2 L105,6.4 L105,15.6 L94.5,15.9 Z" fill="url(#gblue)" stroke="#1c86e8" stroke-width="0.7"/>
<path d="M94.6,7.4 L97.4,8.6 V15.8" fill="none" stroke="#bfe4ff" stroke-width="0.8"/>
<rect x="99" y="10.2" width="5" height="1.4" fill="#d8eeff" transform="rotate(-6 101.5 11)"/>
<path d="M95.2,21.4 a2.7,2.7 0 0 1 -0.2,-5.3 a3.3,3.3 0 0 1 6,-0.9 a2.8,2.8 0 0 1 4,2 a2.2,2.2 0 0 1 -0.4,4.2 Z" fill="url(#gcloud)" stroke="#4e6496" stroke-width="0.9"/>
<path d="M128.6,13.8 L128.6,21.4 A7.7,7.7 0 0 0 135.7,13.8 Z" fill="#8cc88c" opacity="0.75"/>
<g fill="none" stroke-width="1.1"><path d="M128,9 a4.8,4.8 0 0 0 0,9.6" stroke="#5a84e0"/><path d="M128,6.5 a7.3,7.3 0 0 0 -1,14.5" stroke="#8eaaf0"/><path d="M128,11.5 a2.2,2.2 0 0 0 0,4.4" stroke="#7c9ce8"/><path d="M128,9 a4.8,4.8 0 0 1 0,9.6" stroke="#6ab06a"/><path d="M128,6.5 a7.3,7.3 0 0 1 1,14.5" stroke="#7cba7c"/></g>
<circle cx="128" cy="13.6" r="1.7" fill="#2c5cd8"/><rect x="128" y="14" width="1.5" height="7.6" fill="#20a424"/>
<path d="M147.8,13.6 L156,21.6 L162.6,12.6 Z" fill="#f6dc58" stroke="#c8a020" stroke-width="0.8"/>
<ellipse cx="155.1" cy="11.2" rx="7.8" ry="2.5" fill="#5cb4e4" stroke="#2a84b8" stroke-width="0.8" transform="rotate(-6 155.1 11.2)"/>
<path d="M151.2,11 C151.2,5.6 158.4,5 158.4,10.2 C156,12 153,12.2 151.2,11 Z" fill="#6cc0ec" stroke="#2a84b8" stroke-width="0.8"/>
<circle cx="159.5" cy="17.6" r="4.1" fill="#e42410"/><circle cx="159.5" cy="17.6" r="4.1" fill="none" stroke="#b01808" stroke-width="0.5"/><rect x="158" y="16.1" width="3.1" height="3.1" fill="#fff"/>
<text x="168.8" y="17" font-family="'Liberation Sans','Noto Sans CJK SC',sans-serif" font-size="12px" fill="#000">自动交易</text>
<rect x="223" y="1" width="1" height="25" fill="#9a9a9a" shape-rendering="crispEdges"/>
<rect x="227" y="4" width="3" height="1" fill="#b4b4b4" shape-rendering="crispEdges"/>
<rect x="227" y="6" width="3" height="1" fill="#b4b4b4" shape-rendering="crispEdges"/>
<rect x="227" y="8" width="3" height="1" fill="#b4b4b4" shape-rendering="crispEdges"/>
<rect x="227" y="10" width="3" height="1" fill="#b4b4b4" shape-rendering="crispEdges"/>
<rect x="227" y="12" width="3" height="1" fill="#b4b4b4" shape-rendering="crispEdges"/>
<rect x="227" y="14" width="3" height="1" fill="#b4b4b4" shape-rendering="crispEdges"/>
<rect x="227" y="16" width="3" height="1" fill="#b4b4b4" shape-rendering="crispEdges"/>
<rect x="227" y="18" width="3" height="1" fill="#b4b4b4" shape-rendering="crispEdges"/>
<rect x="227" y="20" width="3" height="1" fill="#b4b4b4" shape-rendering="crispEdges"/>
<rect x="227" y="22" width="3" height="1" fill="#b4b4b4" shape-rendering="crispEdges"/>
<g stroke="#505050" stroke-width="1.3" fill="none"><path d="M241.4,9 V21.6 M239.0,19.6 H251.9"/></g>
<polygon points="239.4,10.6 241.4,8 243.4,10.6" fill="#505050"/><polygon points="250.9,17.6 253.4,19.6 250.9,21.6" fill="#505050"/>
<path d="M247.4,9.4 V17.6 M247.4,10.4 H250 M245,16.4 H247.4" stroke="#109010" stroke-width="1.4" fill="none"/>
<rect x="261" y="2" width="25" height="22" fill="url(#chk)" shape-rendering="crispEdges"/>
<rect x="261" y="2" width="25" height="1" fill="#8c8c8c" shape-rendering="crispEdges"/>
<rect x="261" y="2" width="1" height="22" fill="#8c8c8c" shape-rendering="crispEdges"/>
<rect x="285" y="3" width="1" height="21" fill="#fff" shape-rendering="crispEdges"/>
<rect x="262" y="23" width="24" height="1" fill="#fff" shape-rendering="crispEdges"/>
<g stroke="#505050" stroke-width="1.3" fill="none"><path d="M269.4,9 V21.6 M267.0,19.6 H279.9"/></g>
<polygon points="267.4,10.6 269.4,8 271.4,10.6" fill="#505050"/><polygon points="278.9,17.6 281.4,19.6 278.9,21.6" fill="#505050"/>
<rect x="275" y="6" width="1" height="12" fill="#109010"/><rect x="273.2" y="8" width="4.6" height="7.8" fill="#40e040" stroke="#109010" stroke-width="0.8"/>
<g stroke="#505050" stroke-width="1.3" fill="none"><path d="M297.4,9 V21.6 M295.0,19.6 H307.9"/></g>
<polygon points="295.4,10.6 297.4,8 299.4,10.6" fill="#505050"/><polygon points="306.9,17.6 309.4,19.6 306.9,21.6" fill="#505050"/>
<path d="M296.3,16.4 C299,15 300,11 302,11 C304,11 305.5,14.5 307.7,15" stroke="#209020" stroke-width="1.3" fill="none"/>
<rect x="318" y="3" width="1" height="21" fill="#9a9a9a" shape-rendering="crispEdges"/>
<path d="M336.7,16.2 L342,20.8" stroke="#a07810" stroke-width="3.4" stroke-linecap="round"/>
<path d="M336.9,16.4 L341.8,20.6" stroke="#e8c030" stroke-width="2" stroke-linecap="round"/>
<circle cx="333" cy="12" r="5.5" fill="#d8f0ff" stroke="#3080d0" stroke-width="1.1"/>
<rect x="330" y="11.2" width="6" height="1.7" fill="#3878a8"/>
<rect x="332.15" y="9" width="1.7" height="6" fill="#3878a8"/>
<path d="M364.7,16.2 L370,20.8" stroke="#a07810" stroke-width="3.4" stroke-linecap="round"/>
<path d="M364.9,16.4 L369.8,20.6" stroke="#e8c030" stroke-width="2" stroke-linecap="round"/>
<circle cx="361" cy="12" r="5.5" fill="#d8f0ff" stroke="#3080d0" stroke-width="1.1"/>
<rect x="358" y="11.2" width="6" height="1.7" fill="#3878a8"/>
<rect x="383.3" y="6" width="7.8" height="7.8" fill="#38a020"/>
<path d="M384.6,9.2 h5.2 v3.6 h-1 v-1.2 h-3.2 v1.2 h-1 Z" fill="#fff"/>
<rect x="385.5" y="10" width="3.4" height="0.9" fill="#38a020" opacity="0.6"/>
<rect x="391.3" y="6" width="7.8" height="7.8" fill="#2050d0"/>
<path d="M392.6,9.2 h5.2 v3.6 h-1 v-1.2 h-3.2 v1.2 h-1 Z" fill="#fff"/>
<rect x="393.5" y="10" width="3.4" height="0.9" fill="#2050d0" opacity="0.6"/>
<rect x="383.3" y="14" width="7.8" height="7.8" fill="#2050d0"/>
<path d="M384.6,17.2 h5.2 v3.6 h-1 v-1.2 h-3.2 v1.2 h-1 Z" fill="#fff"/>
<rect x="385.5" y="18" width="3.4" height="0.9" fill="#2050d0" opacity="0.6"/>
<rect x="391.3" y="14" width="7.8" height="7.8" fill="#38a020"/>
<path d="M392.6,17.2 h5.2 v3.6 h-1 v-1.2 h-3.2 v1.2 h-1 Z" fill="#fff"/>
<rect x="393.5" y="18" width="3.4" height="0.9" fill="#38a020" opacity="0.6"/>
<rect x="408" y="3" width="1" height="21" fill="#9a9a9a" shape-rendering="crispEdges"/>
<rect x="413" y="2" width="25" height="22" fill="url(#chk)" shape-rendering="crispEdges"/>
<rect x="413" y="2" width="25" height="1" fill="#8c8c8c" shape-rendering="crispEdges"/>
<rect x="413" y="2" width="1" height="22" fill="#8c8c8c" shape-rendering="crispEdges"/>
<rect x="437" y="3" width="1" height="21" fill="#fff" shape-rendering="crispEdges"/>
<rect x="414" y="23" width="24" height="1" fill="#fff" shape-rendering="crispEdges"/>
<g stroke="#505050" stroke-width="1.3" fill="none"><path d="M421.4,9 V21.6 M419.0,19.6 H431.9"/></g>
<polygon points="419.4,10.6 421.4,8 423.4,10.6" fill="#505050"/><polygon points="430.9,17.6 433.4,19.6 430.9,21.6" fill="#505050"/>
<polygon points="426,10 426,16.8 429.8,13.4" fill="#60e860" stroke="#109010" stroke-width="0.9"/>
<rect x="441" y="2" width="25" height="22" fill="url(#chk)" shape-rendering="crispEdges"/>
<rect x="441" y="2" width="25" height="1" fill="#8c8c8c" shape-rendering="crispEdges"/>
<rect x="441" y="2" width="1" height="22" fill="#8c8c8c" shape-rendering="crispEdges"/>
<rect x="465" y="3" width="1" height="21" fill="#fff" shape-rendering="crispEdges"/>
<rect x="442" y="23" width="24" height="1" fill="#fff" shape-rendering="crispEdges"/>
<g stroke="#505050" stroke-width="1.3" fill="none"><path d="M449.5,9 V21.6 M447.1,19.6 H460.0"/></g>
<polygon points="447.5,10.6 449.5,8 451.5,10.6" fill="#505050"/><polygon points="459.0,17.6 461.5,19.6 459.0,21.6" fill="#505050"/>
<rect x="455" y="8" width="1.2" height="9.8" fill="#2070b0"/><path d="M461,13.4 H456.6" stroke="#e05000" stroke-width="1.2"/><polygon points="456.4,13.4 459.2,11.2 459.2,15.6" fill="#e05000"/>
<rect x="470" y="3" width="1" height="21" fill="#9a9a9a" shape-rendering="crispEdges"/>
<path d="M480.3,6.6 H488.4 L491.6,9.8 V19.4 H480.3 Z" fill="#fff" stroke="#989898" stroke-width="0.9"/>
<path d="M485.6,9.4 c-1.6,-0.3 -2,0.4 -2,1.6 V16.6 M482.4,12.4 H485.2" stroke="#404040" stroke-width="1" fill="none"/>
<path d="M488.1,12.2 H492.1 V16 H495.9 V20 H492.1 V23.8 H488.1 V20 H484.4 V16 H488.1 Z" fill="url(#gplus)" stroke="#089008" stroke-width="0.8"/>
<polygon points="502,13 507.5,13 504.75,16" fill="#000"/>
<circle cx="525.9" cy="13.9" r="6.9" fill="#fff" stroke="#1878d8" stroke-width="2.2"/>
<circle cx="525.9" cy="13.9" r="7.9" fill="none" stroke="#0a50a8" stroke-width="0.5"/>
<path d="M525.9,10 V14 H529" stroke="#202020" stroke-width="1.2" fill="none"/>
<polygon points="540.8,13 546.3,13 543.55,16" fill="#000"/>
<rect x="557.5" y="7.3" width="15" height="13.2" fill="#fff" stroke="#3070c0" stroke-width="1"/>
<rect x="558" y="7.8" width="14" height="2" fill="#4a90e0"/><rect x="558" y="14.6" width="14" height="0.9" fill="#3070c0"/>
<path d="M559.4,13.4 l2.4,0 l1.6,-1.6 l2.4,0 l1.6,0.9 l2.4,-1.6 l1,0" stroke="#a01010" stroke-width="1.1" fill="none"/>
<path d="M560,18.4 l2,-1 l2,0.9 l3.2,-2.2 l2.8,2.4" stroke="#109010" stroke-width="1.1" fill="none"/>
<polygon points="579.8,13 585.3,13 582.55,16" fill="#000"/>
<rect x="591" y="1" width="1" height="25" fill="#9a9a9a" shape-rendering="crispEdges"/>
<rect x="595" y="4" width="3" height="1" fill="#b4b4b4" shape-rendering="crispEdges"/>
<rect x="595" y="6" width="3" height="1" fill="#b4b4b4" shape-rendering="crispEdges"/>
<rect x="595" y="8" width="3" height="1" fill="#b4b4b4" shape-rendering="crispEdges"/>
<rect x="595" y="10" width="3" height="1" fill="#b4b4b4" shape-rendering="crispEdges"/>
<rect x="595" y="12" width="3" height="1" fill="#b4b4b4" shape-rendering="crispEdges"/>
<rect x="595" y="14" width="3" height="1" fill="#b4b4b4" shape-rendering="crispEdges"/>
<rect x="595" y="16" width="3" height="1" fill="#b4b4b4" shape-rendering="crispEdges"/>
<rect x="595" y="18" width="3" height="1" fill="#b4b4b4" shape-rendering="crispEdges"/>
<rect x="595" y="20" width="3" height="1" fill="#b4b4b4" shape-rendering="crispEdges"/>
<rect x="595" y="22" width="3" height="1" fill="#b4b4b4" shape-rendering="crispEdges"/>
<rect x="601" y="2" width="25" height="22" fill="url(#chk)" shape-rendering="crispEdges"/>
<rect x="601" y="2" width="25" height="1" fill="#8c8c8c" shape-rendering="crispEdges"/>
<rect x="601" y="2" width="1" height="22" fill="#8c8c8c" shape-rendering="crispEdges"/>
<rect x="625" y="3" width="1" height="21" fill="#fff" shape-rendering="crispEdges"/>
<rect x="602" y="23" width="24" height="1" fill="#fff" shape-rendering="crispEdges"/>
<path d="M609,6.8 V18.6 L611.8,16.2 L613.8,20.8 L615.8,20 L613.8,15.6 L617.4,15.2 Z" fill="#505050"/>
<path d="M641.5,7.5 V21 M634,14.3 H649" stroke="#505050" stroke-width="1" fill="none" shape-rendering="crispEdges"/>
<rect x="640" y="13" width="3" height="3" fill="#f0f0f0"/><rect x="641" y="14" width="1" height="1" fill="#505050"/>
<rect x="658" y="3" width="1" height="21" fill="#9a9a9a" shape-rendering="crispEdges"/>
<g stroke="#585858" fill="none"><path d="M675.5,8 V20.8" stroke-width="1.1"/><path d="M698,14.4 H710" stroke-width="1.2"/><path d="M725.6,20.8 L738.2,8.9" stroke-width="1.2"/><path d="M752,15.3 L765.3,7.2 M754.3,20 L765.8,12.4" stroke-width="1.1"/><path d="M754.5,13 l1.6,6 M757.6,11 l1.6,6 M760.6,9 l1.6,6 M763.4,6.6 l1.4,6.4" stroke-width="0.9"/></g>
<text x="762.8" y="22.8" font-family="'Liberation Sans',sans-serif" font-size="6.6px" font-weight="bold" fill="#404040">E</text>
<path d="M781,7.2 H794" stroke="#585858" stroke-width="1" stroke-dasharray="1,1" fill="none"/>
<path d="M781,9.6 H794" stroke="#585858" stroke-width="1" stroke-dasharray="1,1" fill="none"/>
<path d="M781,14.3 H794" stroke="#585858" stroke-width="1" stroke-dasharray="1,1" fill="none"/>
<path d="M781,18.6 H790" stroke="#585858" stroke-width="1" stroke-dasharray="1,1" fill="none"/>
<text x="790.8" y="22.8" font-family="'Liberation Sans',sans-serif" font-size="6.6px" font-weight="bold" fill="#404040">F</text>
<text x="811.8" y="18.6" font-family="'Liberation Sans',sans-serif" font-size="11.2px" fill="#505050" stroke="#505050" stroke-width="0.3">A</text>
<rect x="838.5" y="8.5" width="11" height="12" fill="none" stroke="#585858" stroke-width="1" stroke-dasharray="1,1"/>
<text x="840.2" y="18.3" font-family="'Liberation Sans',sans-serif" font-size="10.4px" font-weight="bold" fill="#505050">T</text>
<polygon points="868.2,8 871,10.8 868.2,13.2 865.4,10.8" fill="#505050"/><polygon points="875.8,15.8 878.8,18.4 875.8,21 872.8,18.4" fill="#505050"/>
<path d="M867.4,15.6 l1.8,2 l4.6,-5" stroke="#505050" stroke-width="1.3" fill="none"/>
<polygon points="885.6,13 891.1,13 888.35,16" fill="#000"/>
<rect x="897" y="1" width="1" height="25" fill="#9a9a9a" shape-rendering="crispEdges"/>
<rect x="901" y="4" width="3" height="1" fill="#b4b4b4" shape-rendering="crispEdges"/>
<rect x="901" y="6" width="3" height="1" fill="#b4b4b4" shape-rendering="crispEdges"/>
<rect x="901" y="8" width="3" height="1" fill="#b4b4b4" shape-rendering="crispEdges"/>
<rect x="901" y="10" width="3" height="1" fill="#b4b4b4" shape-rendering="crispEdges"/>
<rect x="901" y="12" width="3" height="1" fill="#b4b4b4" shape-rendering="crispEdges"/>
<rect x="901" y="14" width="3" height="1" fill="#b4b4b4" shape-rendering="crispEdges"/>
<rect x="901" y="16" width="3" height="1" fill="#b4b4b4" shape-rendering="crispEdges"/>
<rect x="901" y="18" width="3" height="1" fill="#b4b4b4" shape-rendering="crispEdges"/>
<rect x="901" y="20" width="3" height="1" fill="#b4b4b4" shape-rendering="crispEdges"/>
<rect x="901" y="22" width="3" height="1" fill="#b4b4b4" shape-rendering="crispEdges"/>
<rect x="1047" y="2" width="25" height="22" fill="url(#chk)" shape-rendering="crispEdges"/>
<rect x="1047" y="2" width="25" height="1" fill="#8c8c8c" shape-rendering="crispEdges"/>
<rect x="1047" y="2" width="1" height="22" fill="#8c8c8c" shape-rendering="crispEdges"/>
<rect x="1071" y="3" width="1" height="21" fill="#fff" shape-rendering="crispEdges"/>
<rect x="1048" y="23" width="24" height="1" fill="#fff" shape-rendering="crispEdges"/>
<g font-family="'Liberation Sans',sans-serif" font-size="9.6px" fill="#404040">
<text x="912.3" y="18.1">M1</text>
<text x="940.2" y="18.1">M5</text>
<text x="966" y="18.1">M15</text>
<text x="994.1" y="18.1">M30</text>
<text x="1025.1" y="18.1">H1</text>
<text x="1052.6" y="18.1">H4</text>
<text x="1080.8" y="18.1">D1</text>
<text x="1109" y="18.1">W1</text>
<text x="1135.3" y="18.1">MN</text>
</g>
<rect x="1158" y="1" width="1" height="25" fill="#9a9a9a" shape-rendering="crispEdges"/>
<path d="M1625.8,14.4 L1620.8,19" stroke="#2050c8" stroke-width="2.2" stroke-linecap="round"/>
<circle cx="1628.4" cy="11.5" r="3.9" fill="#f4f8ff" stroke="#2050c8" stroke-width="1.2"/>
<path d="M1662.6,15.4 l2.6,2.6 l-0.3,-3.2" fill="#9a9a9a"/><ellipse cx="1661.4" cy="11.2" rx="6.2" ry="4.9" fill="url(#gbub)" stroke="#a8a8a8" stroke-width="0.9"/>
<path d="M1650.6,18.8 l-1.6,2.4 l3.2,-1.8" fill="#9a9a9a"/><ellipse cx="1652" cy="15.3" rx="4.9" ry="3.9" fill="url(#gbub)" stroke="#a0a0a0" stroke-width="0.9"/>
</svg>
</div>
<div id="trade">
 <svg width="223" height="68" viewBox="0 48 223 68" style="position:absolute;left:0;top:0">
  <defs><linearGradient id="tg" gradientUnits="userSpaceOnUse" x1="0" y1="50" x2="0" y2="114"><stop offset="0" stop-color="#fa5050"/><stop offset=".36" stop-color="#e23636"/><stop offset=".4" stop-color="#dc3030"/><stop offset="1" stop-color="#b00000"/></linearGradient></defs>
  <path d="M2.5,50.5 H53.5 V74.5 H110.5 V113.5 H2.5 Z" fill="url(#tg)" stroke="#b40808" stroke-width="1"/>
  <path d="M220.5,50.5 H169.5 V74.5 H113.5 V113.5 H220.5 Z" fill="url(#tg)" stroke="#b40808" stroke-width="1"/>
  <g shape-rendering="crispEdges"><rect x="6" y="73" width="44" height="1" fill="#a00404"/><rect x="6" y="74" width="44" height="1" fill="#f28a8a"/>
  <rect x="173" y="73" width="44" height="1" fill="#a00404"/><rect x="173" y="74" width="44" height="1" fill="#f28a8a"/>
  <rect x="56.5" y="50.5" width="110" height="21" fill="#fff" stroke="#a4a8ac"/><rect x="57" y="51" width="20" height="20" fill="#e9e9e9"/><rect x="77" y="51" width="1" height="20" fill="#b0b4b8"/>
  <rect x="146" y="51" width="20" height="20" fill="#e9e9e9"/><rect x="145" y="51" width="1" height="20" fill="#b0b4b8"/></g>
  <polygon points="63.8,59 69.2,59 66.5,62.2" fill="#000"/><polygon points="153.1,62.2 158.5,62.2 155.8,59" fill="#000"/>
 </svg>
 <div class="lbl" style="left:14px;top:8px">SELL</div>
 <div class="lbl" style="left:182.4px;top:8px">BUY</div>
 <div class="sm" style="left:17.8px;top:46.6px">26546</div>
 <div class="big" style="left:57px;top:29.2px">.5</div>
 <div class="sm" style="left:127.8px;top:46.6px">26555</div>
 <div class="big" style="left:168px;top:29.2px">.5</div>
 <div class="v">1.00</div>
</div>
<div id="redge"></div>
<div id="bbar"><i style="left:0;top:0;width:1673px;height:1px;background:#e6e6e6"></i><i style="left:0;top:1px;width:1673px;height:2px;background:#fff"></i><i style="left:0;top:2px;width:77px;height:1px;background:#000"></i><i style="left:151px;top:2px;width:1522px;height:1px;background:#000"></i></div>
</body></html>
